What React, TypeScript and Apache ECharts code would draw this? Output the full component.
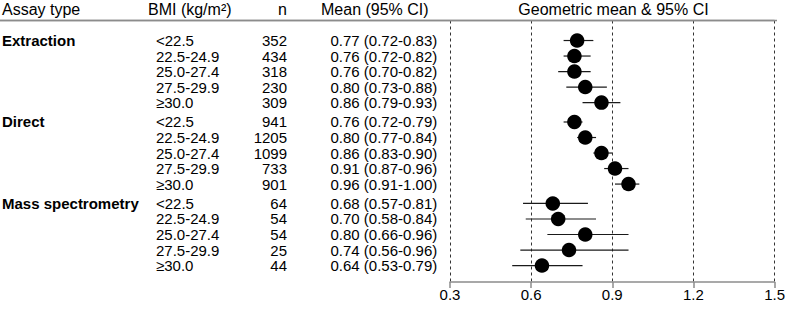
import React, { useEffect, useRef } from "react";
import * as echarts from "echarts";

const groups = ["Extraction", "Direct", "Mass spectrometry"];
const bmiCategories = ["<22.5", "22.5-24.9", "25.0-27.4", "27.5-29.9", "≥30.0"];

const extractionN = [352, 434, 318, 230, 309];
const extractionMean = [0.77, 0.76, 0.76, 0.8, 0.86];
const extractionLow = [0.72, 0.72, 0.7, 0.73, 0.79];
const extractionHigh = [0.83, 0.82, 0.82, 0.88, 0.93];

const directN = [941, 1205, 1099, 733, 901];
const directMean = [0.76, 0.8, 0.86, 0.91, 0.96];
const directLow = [0.72, 0.77, 0.83, 0.87, 0.91];
const directHigh = [0.79, 0.84, 0.9, 0.96, 1.0];

const massN = [64, 54, 54, 25, 44];
const massMean = [0.68, 0.7, 0.8, 0.74, 0.64];
const massLow = [0.57, 0.58, 0.66, 0.56, 0.53];
const massHigh = [0.81, 0.84, 0.96, 0.96, 0.79];

const xTicks = [0.3, 0.6, 0.9, 1.2, 1.5];

const headerAssay = "Assay type";
const headerBmi = "BMI (kg/m²)";
const headerN = "n";
const headerMean = "Mean (95% CI)";
const headerPlot = "Geometric mean & 95% CI";

const FONT = "'Liberation Sans', Arial, Helvetica, sans-serif";
const GROUP_GAP = 5.25;

type Row = {
  g: number;
  r: number;
  pos: number;
  n: number;
  mean: number;
  lo: number;
  hi: number;
};

function buildRows(): Row[] {
  const sets = [
    [extractionN, extractionMean, extractionLow, extractionHigh],
    [directN, directMean, directLow, directHigh],
    [massN, massMean, massLow, massHigh],
  ];
  const rows: Row[] = [];
  sets.forEach((s, g) => {
    s[0].forEach((n, r) => {
      rows.push({
        g,
        r,
        pos: g * GROUP_GAP + r,
        n,
        mean: s[1][r],
        lo: s[2][r],
        hi: s[3][r],
      });
    });
  });
  return rows;
}

export default function App() {
  const ref = useRef<HTMLDivElement>(null);

  useEffect(() => {
    if (!ref.current) return;
    const chart = echarts.init(ref.current, undefined, { renderer: "svg" });
    const rows = buildRows();

    const txt = (
      text: string,
      x: number,
      y: number,
      align: string,
      size: number,
      bold = false
    ) => ({
      type: "text",
      x,
      y,
      style: {
        text,
        fill: "#000",
        font: `${bold ? "bold " : ""}${size}px ${FONT}`,
        align,
        textAlign: align,
        verticalAlign: "middle",
        textVerticalAlign: "middle",
      },
    });

    const option: any = {
      animation: false,
      grid: { left: 450, right: 11, top: 20.5, bottom: 27 },
      xAxis: {
        type: "value",
        position: "bottom",
        min: xTicks[0],
        max: xTicks[xTicks.length - 1],
        interval: 0.3,
        axisLine: {
          show: true,
          onZero: false,
          lineStyle: { color: "#8c8c8c", width: 1.5 },
        },
        axisTick: { show: true, length: 6, lineStyle: { color: "#8c8c8c", width: 1.5 } },
        axisLabel: {
          color: "#000",
          fontSize: 15,
          fontFamily: FONT,
          margin: 5,
          formatter: (v: number) => v.toFixed(1),
        },
        splitLine: {
          show: true,
          lineStyle: { color: "#333", width: 1, type: [3, 3] },
        },
      },
      yAxis: {
        type: "value",
        inverse: true,
        min: -1.29,
        max: 15.56,
        show: false,
        splitLine: { show: false },
      },
      graphic: [
        {
          type: "line",
          z: 200,
          shape: { x1: 0, y1: 20.5, x2: 777, y2: 20.5 },
          style: { stroke: "#8c8c8c", lineWidth: 1.5 },
        },
        txt(headerAssay, 2, 9.5, "left", 16),
        txt(headerBmi, 148, 9.5, "left", 16),
        txt(headerN, 287, 9.5, "right", 16),
        txt(headerMean, 321, 9.5, "left", 16),
        txt(headerPlot, 613.5, 9.5, "center", 16),
      ],
      series: [
        {
          type: "custom",
          name: "text",
          silent: true,
          clip: false,
          z: 5,
          data: rows.map((r, i) => [r.mean, r.pos, i]),
          encode: { x: 0, y: 1 },
          renderItem: (params: any, api: any) => {
            const row = rows[params.dataIndex];
            const y = api.coord([0.3, api.value(1)])[1];
            const children: any[] = [];
            if (params.dataIndex === 0) {
              const cs = params.coordSys;
              children.push({
                type: "line",
                shape: { x1: 0, y1: cs.y, x2: cs.x + cs.width, y2: cs.y },
                style: { stroke: "#8c8c8c", lineWidth: 1.5 },
              });
            }
            if (row.r === 0) children.push(txt(groups[row.g], 2, y, "left", 15, true));
            children.push(txt(bmiCategories[row.r], 156, y, "left", 15));
            children.push(txt(String(row.n), 287, y, "right", 15));
            children.push(
              txt(
                `${row.mean.toFixed(2)} (${row.lo.toFixed(2)}-${row.hi.toFixed(2)})`,
                330.5,
                y,
                "left",
                15
              )
            );
            return { type: "group", children };
          },
        },
        {
          type: "custom",
          name: "ci",
          silent: true,
          clip: false,
          data: rows.map((r) => [r.lo, r.hi, r.pos]),
          encode: { x: [0, 1], y: 2 },
          renderItem: (params: any, api: any) => {
            const a = api.coord([api.value(0), api.value(2)]);
            const b = api.coord([api.value(1), api.value(2)]);
            return {
              type: "line",
              shape: { x1: a[0], y1: a[1], x2: b[0], y2: b[1] },
              style: { stroke: "#1a1a1a", lineWidth: 1.2 },
            };
          },
          z: 2,
        },
        {
          type: "scatter",
          name: "mean",
          silent: true,
          clip: false,
          data: rows.map((r) => [r.mean, r.pos]),
          symbol: "circle",
          symbolSize: 14.5,
          itemStyle: { color: "#000", opacity: 1 },
          z: 3,
        },
      ],
    };

    chart.setOption(option);
    return () => chart.dispose();
  }, []);

  return (
    <div
      ref={ref}
      style={{ position: "absolute", left: 0, top: 0, width: 788, height: 309 }}
    />
  );
}
